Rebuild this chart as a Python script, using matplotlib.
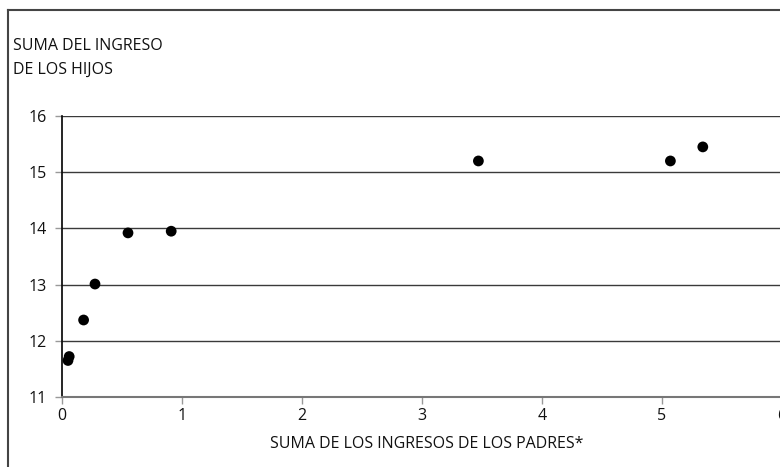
import matplotlib
matplotlib.use("Agg")
import matplotlib.pyplot as plt
from matplotlib.lines import Line2D

parent_income = [0.05, 0.06, 0.18, 0.275, 0.55, 0.91, 3.47, 5.07, 5.34]
child_income = [11.65, 11.72, 12.37, 13.01, 13.92, 13.95, 15.20, 15.20, 15.45]
x_ticks = [0, 1, 2, 3, 4, 5, 6]
y_ticks = [11, 12, 13, 14, 15, 16]
y_title_lines = ["SUMA DEL INGRESO", "DE LOS HIJOS"]
x_title = "SUMA DE LOS INGRESOS DE LOS PADRES*"

plt.rcParams['font.family'] = ['Open Sans', 'DejaVu Sans']

W, H = 780, 467
fig = plt.figure(figsize=(W / 100, H / 100), dpi=100)
ax = fig.add_axes([62 / W, 1 - 397 / H, 720 / W, (397 - 116) / H])

for yv in y_ticks[1:]:
    ax.axhline(yv, color='#3a3a3a', lw=1.0, zorder=1)

ax.scatter(parent_income, child_income, s=60, color='black', zorder=3, edgecolors='none')

ax.set_xlim(0, 6)
ax.set_ylim(11, 16)
ax.set_xticks(x_ticks)
ax.set_yticks(y_ticks)
ax.set_xticklabels([str(v) for v in x_ticks], fontsize=11.5)
ax.set_yticklabels([str(v) for v in y_ticks], fontsize=11.5)

for s in ['top', 'right']:
    ax.spines[s].set_visible(False)
ax.spines['left'].set_color('black')
ax.spines['left'].set_linewidth(1.2)
ax.spines['bottom'].set_color('#777777')
ax.spines['bottom'].set_linewidth(1.5)
ax.tick_params(axis='both', color='#999999', length=5, width=1, labelcolor='#111111')
ax.tick_params(axis='x', pad=3)
ax.tick_params(axis='y', pad=6)

fig.text(13 / W, 1 - 46 / H, y_title_lines[0], fontsize=11.5, color='#111111', va='center', ha='left')
fig.text(13 / W, 1 - 70 / H, y_title_lines[1], fontsize=11.5, color='#111111', va='center', ha='left')
fig.text(427 / W, 1 - 444 / H, x_title, fontsize=11.5, color='#111111', va='center', ha='center')

fig.add_artist(Line2D([8 / W, 8 / W], [0, 1 - 10 / H], transform=fig.transFigure, color='#444444', lw=1.5))
fig.add_artist(Line2D([8 / W, 1], [1 - 10 / H, 1 - 10 / H], transform=fig.transFigure, color='#444444', lw=1.5))

fig.savefig('out.png', dpi=100)
